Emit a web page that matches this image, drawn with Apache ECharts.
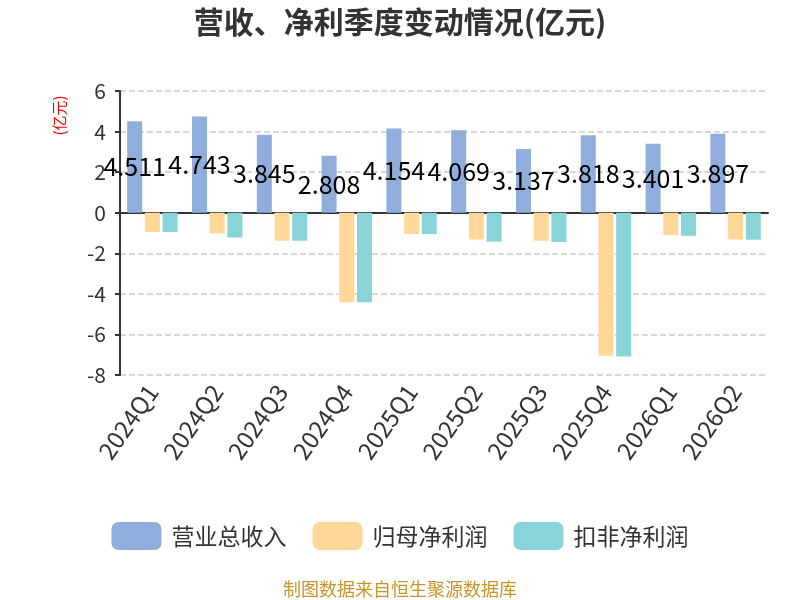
<!DOCTYPE html>
<html>
<head>
<meta charset="utf-8">
<script src="https://cdn.jsdelivr.net/npm/echarts@6/dist/echarts.min.js"></script>
<style>
  html, body { margin: 0; padding: 0; background: #fff; }
  #chart-container { width: 800px; height: 600px; }
</style>
</head>
<body>
<div id="chart-container"></div>
<script>
const quarters = ['2024Q1', '2024Q2', '2024Q3', '2024Q4', '2025Q1', '2025Q2', '2025Q3', '2025Q4', '2026Q1', '2026Q2'];
const revenue = [4.511, 4.743, 3.845, 2.808, 4.154, 4.069, 3.137, 3.818, 3.401, 3.897];
const netProfit = [-0.95, -1.02, -1.38, -4.41, -1.05, -1.32, -1.38, -7.05, -1.10, -1.32];
const deductedProfit = [-0.95, -1.22, -1.38, -4.41, -1.05, -1.43, -1.45, -7.09, -1.14, -1.33];
const seriesNames = ['营业总收入', '归母净利润', '扣非净利润'];
const yTicks = { min: -8, max: 6, step: 2 };

const fontFamily = '"Microsoft YaHei", "Noto Sans CJK SC", sans-serif';

const dom = document.getElementById('chart-container');
const myChart = echarts.init(dom, null, { renderer: 'canvas' });

const option = {
  textStyle: { fontFamily: fontFamily },
  title: {
    text: '营收、净利季度变动情况(亿元)',
    left: 'center',
    top: 2,
    textStyle: { fontSize: 30, fontWeight: 'bold', color: '#333' },
  },
  graphic: [
    {
      type: 'text',
      x: 59.5,
      y: 115.5,
      rotation: Math.PI / 2,
      style: {
        text: '(亿元)',
        fill: '#ff0000',
        fontSize: 15,
        fontFamily: fontFamily,
        align: 'center',
        verticalAlign: 'middle',
      },
    },
    {
      type: 'text',
      left: 'center',
      top: 580,
      style: { text: '制图数据来自恒生聚源数据库', fill: '#c8952c', fontSize: 18, fontFamily: fontFamily },
    },
  ],
  legend: {
    top: 517,
    itemWidth: 50,
    itemHeight: 28,
    itemGap: 26,
    icon: 'roundRect',
    textStyle: { fontSize: 23, color: '#333', padding: [0, 0, 0, 5] },
    data: seriesNames,
  },
  grid: { left: 120, right: 32, top: 91, bottom: 225 },
  xAxis: {
    type: 'category',
    data: quarters,
    axisLine: { lineStyle: { color: '#333', width: 2 } },
    axisTick: { lineStyle: { color: '#333', width: 2 } },
    axisLabel: { rotate: 55, fontSize: 24, color: '#333', margin: 12 },
  },
  yAxis: {
    type: 'value',
    min: yTicks.min,
    max: yTicks.max,
    interval: yTicks.step,
    axisLine: { show: true, lineStyle: { color: '#333', width: 2 } },
    axisTick: { show: true, lineStyle: { color: '#333', width: 2 } },
    axisLabel: { fontSize: 21, color: '#333', margin: 14 },
    splitLine: { lineStyle: { type: 'dashed', color: '#ccc', width: 1.5 } },
  },
  series: [
    {
      name: seriesNames[0],
      type: 'bar',
      data: revenue,
      barWidth: 15,
      barGap: '18%',
      itemStyle: { color: '#8faedb' },
      label: { show: true, position: 'inside', color: '#000', fontSize: 25 },
    },
    {
      name: seriesNames[1],
      type: 'bar',
      data: netProfit,
      barWidth: 15,
      barGap: '18%',
      itemStyle: { color: '#ffd898' },
    },
    {
      name: seriesNames[2],
      type: 'bar',
      data: deductedProfit,
      barWidth: 15,
      barGap: '18%',
      itemStyle: { color: '#88d4d8' },
    },
  ],
};

myChart.setOption(option);
window.addEventListener('resize', myChart.resize);
</script>
</body>
</html>
